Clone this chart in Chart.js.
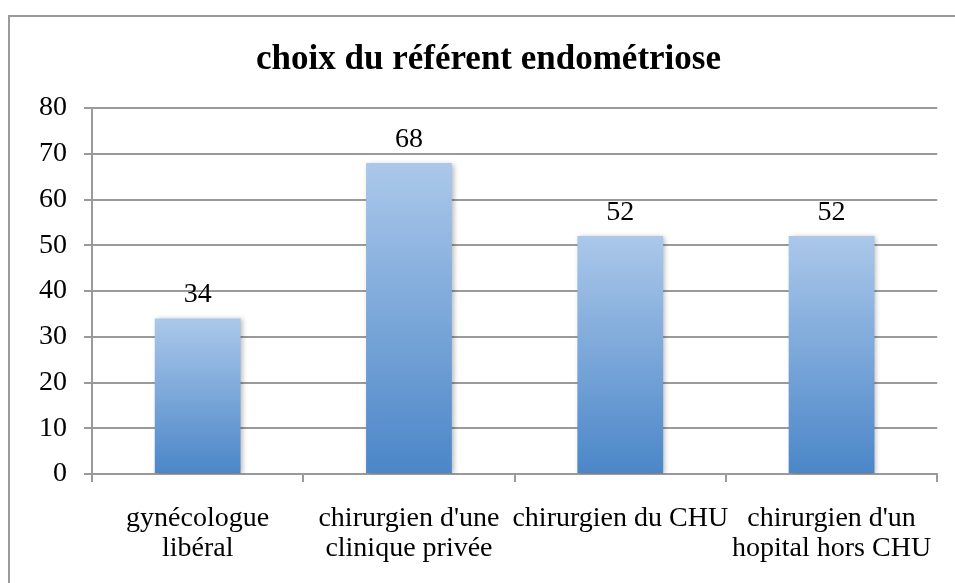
<!DOCTYPE html>
<html>
<head>
<meta charset="utf-8">
<script src="https://cdn.jsdelivr.net/npm/chart.js@4.4.1/dist/chart.umd.min.js"></script>
<style>
html,body{margin:0;padding:0;background:#fff;overflow:hidden;}
#wrap{width:955px;height:583px;position:relative;overflow:hidden;}
</style>
</head>
<body>
<div id="wrap"><canvas id="c" width="955" height="583"></canvas></div>
<script>
const titleText = "choix du référent endométriose";
const categories = [
  ["gynécologue", "libéral"],
  ["chirurgien d'une", "clinique privée"],
  ["chirurgien du CHU"],
  ["chirurgien d'un", "hopital hors CHU"]
];
const values = [34, 68, 52, 52];
const yTicks = [0, 10, 20, 30, 40, 50, 60, 70, 80];

const FONT = "'Liberation Serif', 'DejaVu Serif', serif";
const GRID = "#9a9a9a";

const framePlugin = {
  id: 'frame',
  beforeDraw(chart) {
    const ctx = chart.ctx;
    ctx.save();
    ctx.fillStyle = '#fff';
    ctx.fillRect(0, 0, chart.width, chart.height);
    ctx.strokeStyle = GRID;
    ctx.lineWidth = 2;
    ctx.beginPath();
    ctx.moveTo(9, chart.height + 5);
    ctx.lineTo(9, 16);
    ctx.lineTo(chart.width + 5, 16);
    ctx.stroke();
    ctx.restore();
  },
  afterDraw(chart) {
    const ctx = chart.ctx;
    ctx.save();
    ctx.font = "bold 35px " + FONT;
    ctx.fillStyle = '#000';
    ctx.textAlign = 'center';
    ctx.textBaseline = 'alphabetic';
    ctx.fillText(titleText, 488.5, 69);
    ctx.restore();
  }
};

const shadowPlugin = {
  id: 'barShadow',
  beforeDatasetsDraw(chart) {
    const ctx = chart.ctx;
    ctx.save();
    ctx.shadowColor = 'rgba(0,0,0,0.28)';
    ctx.shadowBlur = 5;
    ctx.shadowOffsetX = 2;
    ctx.shadowOffsetY = 1;
  },
  afterDatasetsDraw(chart) {
    chart.ctx.restore();
    const ctx = chart.ctx;
    ctx.save();
    ctx.font = "28px " + FONT;
    ctx.fillStyle = '#000';
    ctx.textAlign = 'center';
    ctx.textBaseline = 'alphabetic';
    const meta = chart.getDatasetMeta(0);
    meta.data.forEach((bar, i) => {
      ctx.fillText(String(chart.data.datasets[0].data[i]), bar.x, bar.y - 16);
    });
    ctx.restore();
  }
};

new Chart(document.getElementById('c'), {
  type: 'bar',
  data: {
    labels: categories,
    datasets: [{
      data: values,
      borderWidth: 0,
      backgroundColor(context) {
        const chart = context.chart;
        const area = chart.chartArea;
        if (!area || context.raw === undefined) return '#7aa7da';
        const y = chart.scales.y;
        const top = y.getPixelForValue(context.raw);
        const bottom = y.getPixelForValue(0);
        const g = chart.ctx.createLinearGradient(0, top, 0, bottom);
        g.addColorStop(0, '#abc8ea');
        g.addColorStop(1, '#4b86c8');
        return g;
      },
      barPercentage: 0.406,
      categoryPercentage: 1.0
    }]
  },
  options: {
    responsive: false,
    animation: false,
    devicePixelRatio: 1,
    layout: { padding: { left: 0, right: 15, top: 108, bottom: 0 } },
    plugins: {
      legend: { display: false },
      title: { display: false },
      tooltip: { enabled: false }
    },
    scales: {
      y: {
        min: 0,
        max: 80,
        afterBuildTicks(scale) { scale.ticks = yTicks.map(v => ({ value: v })); },
        afterFit(scale) { scale.width = 92; },
        ticks: {
          font: { family: FONT, size: 28 },
          color: '#000',
          padding: 17
        },
        grid: {
          color: GRID,
          lineWidth: 2,
          tickLength: 8,
          drawTicks: true
        },
        border: { color: GRID, width: 2 }
      },
      x: {
        afterFit(scale) { scale.height = 109; },
        ticks: {
          font: { family: FONT, size: 28, lineHeight: 1.07 },
          color: '#000',
          padding: 22,
          maxRotation: 0,
          autoSkip: false
        },
        grid: {
          offset: true,
          drawOnChartArea: false,
          color: GRID,
          lineWidth: 2,
          tickLength: 8
        },
        border: { color: GRID, width: 2 }
      }
    }
  },
  plugins: [framePlugin, shadowPlugin]
});
</script>
</body>
</html>
